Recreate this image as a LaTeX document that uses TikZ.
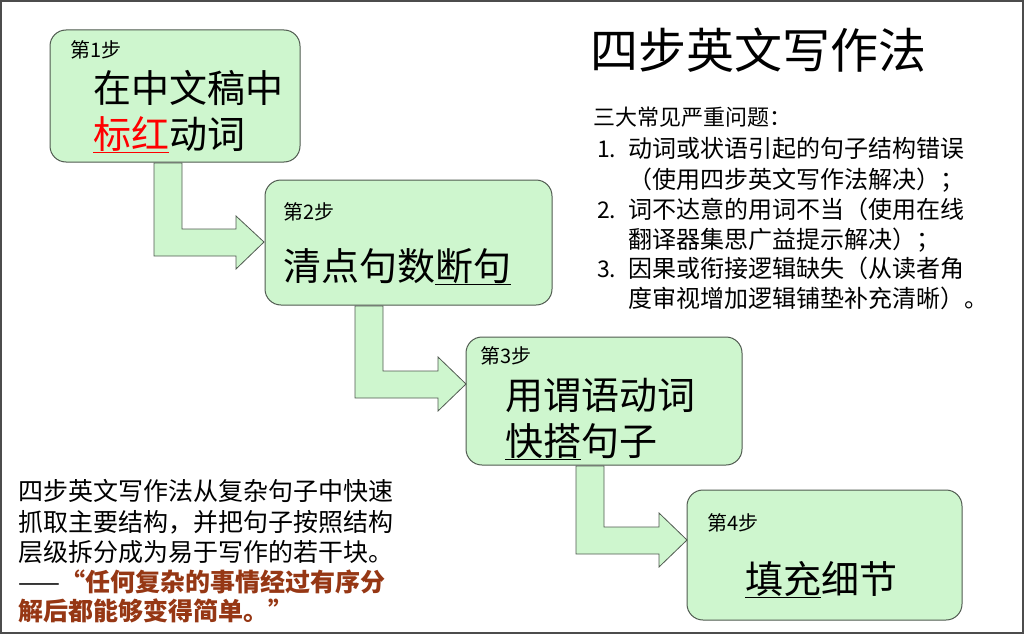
\documentclass[tikz,border=0pt]{standalone}
\usepackage{fontspec}
\setmainfont{Noto Sans CJK SC}
\newfontfamily\cjk{Noto Sans CJK SC}
\definecolor{boxfill}{RGB}{206,246,206}
\definecolor{boxline}{RGB}{80,90,80}
\definecolor{quotec}{RGB}{150,55,20}
\tikzset{
 stepbox/.style={draw=boxline,fill=boxfill,rounded corners=16pt,line width=1pt},
 arr/.style={draw=boxline,fill=boxfill,line width=0.8pt,line join=miter},
 txt/.style={anchor=base west,inner sep=0pt},
}
\newcommand{\fs}[1]{\fontsize{#1pt}{#1pt}\selectfont}
\newcommand{\ul}[1]{\underline{#1}}
\begin{document}
\begin{tikzpicture}[x=1pt,y=-1pt]
\useasboundingbox (0,0) rectangle (1024,634);
\draw[line width=1.5pt,draw=black!70] (1,1) rectangle (1023,633);
% boxes
\draw[stepbox] (50,30) rectangle (300,162);
\draw[stepbox] (265,180) rectangle (552,305);
\draw[stepbox] (466,337) rectangle (742,465);
\draw[stepbox] (687,490) rectangle (962,620);
% arrows
\draw[arr] (154,163) -- (182,163) -- (182,229) -- (236,229) -- (236,216) -- (264,242) -- (236,269) -- (236,256) -- (154,256) -- cycle;
\draw[arr] (355,306) -- (383,306) -- (383,371) -- (438,371) -- (438,357) -- (466,384) -- (438,411) -- (438,398) -- (355,398) -- cycle;
\draw[arr] (576,466) -- (604,466) -- (604,527) -- (659,527) -- (659,513) -- (687,540) -- (659,567) -- (659,554) -- (576,554) -- cycle;
% box texts
\node[txt] (s1) at (70,57) {\fs{20}第1步};
\node[txt] (t1a) at (93,102) {\fs{38}在中文稿中};
\node[txt] (t1b) at (93,148) {\fs{38}\textcolor{red}{\ul{标红}}动词};
\node[txt] (s2) at (283,219) {\fs{20}第2步};
\node[txt] (t2) at (283,280) {\fs{38}清点句数\ul{断句}};
\node[txt] (s3) at (480,363) {\fs{20}第3步};
\node[txt] (t3a) at (505,409) {\fs{38}用谓语动词};
\node[txt] (t3b) at (505,455) {\fs{38}\ul{快搭}句子};
\node[txt] (s4) at (707,530) {\fs{20}第4步};
\node[txt] (t4) at (745,593) {\fs{38}\ul{填充}细节};
% title
\node[txt] (title) at (590,68) {\fs{48}四步英文写作法};
% right list
\node[txt] (r0) at (593,125) {\fs{22}三大常见严重问题：};
\node[txt] (r1n) at (597,157) {\fs{23}1.};
\node[txt] (r1) at (628,157) {\fs{24}动词或状语引起的句子结构错误};
\node[txt] (r1b) at (628,188) {\fs{24}（使用四步英文写作法解决）；};
\node[txt] (r2n) at (597,218) {\fs{23}2.};
\node[txt] (r2) at (628,218) {\fs{24}词不达意的用词不当（使用在线};
\node[txt] (r2b) at (628,248) {\fs{24}翻译器集思广益提示解决）；};
\node[txt] (r3n) at (597,277) {\fs{23}3.};
\node[txt] (r3) at (628,277) {\fs{24}因果或衔接逻辑缺失（从读者角};
\node[txt] (r3b) at (628,307) {\fs{24}度审视增加逻辑铺垫补充清晰）。};
% bottom left
\node[txt] (l1) at (18,500) {\fs{25}四步英文写作法从复杂句子中快速};
\node[txt] (l2) at (18,531) {\fs{25}抓取主要结构，并把句子按照结构};
\node[txt] (l3) at (18,561) {\fs{25}层级拆分成为易于写作的若干块。};
\node[txt] (l4) at (18,591) {\fs{25}——\textcolor{quotec}{\bfseries “任何复杂的事情经过有序分}};
\node[txt] (l5) at (18,620) {\fs{25}\textcolor{quotec}{\bfseries 解后都能够变得简单。”}};
\end{tikzpicture}
\end{document}
